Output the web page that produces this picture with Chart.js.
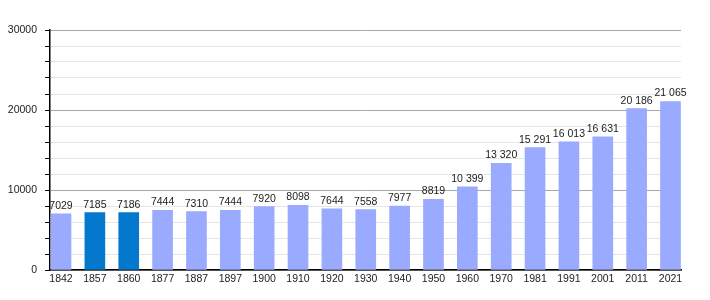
<!DOCTYPE html>
<html>
<head>
<meta charset="utf-8">
<script src="https://cdn.jsdelivr.net/npm/chart.js@4"></script>
<style>
  html, body { margin: 0; padding: 0; background: #fff; }
  #wrap { width: 710px; height: 300px; position: relative; }
</style>
</head>
<body>
<div id="wrap"><canvas id="pop-chart"></canvas></div>
<script>
// Census years and population
const years = ['1842', '1857', '1860', '1877', '1887', '1897', '1900', '1910', '1920', '1930',
               '1940', '1950', '1960', '1970', '1981', '1991', '2001', '2011', '2021'];
const population = [7029, 7185, 7186, 7444, 7310, 7444, 7920, 8098, 7644, 7558,
                    7977, 8819, 10399, 13320, 15291, 16013, 16631, 20186, 21065];
const highlighted = ['1857', '1860'];  // darker bars
const yTicks = [0, 10000, 20000, 30000];

const fontFamily = '"Liberation Sans", Arial, sans-serif';

// french style thousands: 10 399
function fmt(v) {
    return v >= 10000 ? String(v).replace(/\B(?=(\d{3})+(?!\d))/g, ' ') : String(v);
}

// values drawn above bars
const valueLabels = {
    id: 'valueLabels',
    afterDatasetsDraw(chart) {
        const ctx = chart.ctx;
        const meta = chart.getDatasetMeta(0);
        ctx.save();
        ctx.font = '10.5px ' + fontFamily;
        ctx.fillStyle = '#222';
        ctx.textAlign = 'center';
        ctx.textBaseline = 'alphabetic';
        meta.data.forEach((bar, i) => {
            ctx.fillText(fmt(population[i]), bar.x, bar.y - 5);
        });
        ctx.restore();
    }
};

const ctx = document.getElementById('pop-chart').getContext('2d');
new Chart(ctx, {
    type: 'bar',
    data: {
        datasets: [{
            data: population.map((v, i) => ({ x: i, y: v })),
            backgroundColor: years.map(y => highlighted.includes(y) ? '#0478cc' : '#99aaff'),
            barThickness: 20,
            borderWidth: 0,
        }]
    },
    options: {
        responsive: true,
        maintainAspectRatio: false,
        animation: false,
        layout: { padding: { top: 30, right: 29, left: 0, bottom: 0 } },
        plugins: { legend: { display: false }, tooltip: { enabled: false } },
        scales: {
            x: {
                type: 'linear',
                offset: false,
                min: -0.325,
                max: 18.31,
                afterBuildTicks: axis => { axis.ticks = years.map((_, i) => ({ value: i })); },
                afterFit: axis => { axis.height = 30; },
                ticks: {
                    callback: v => years[v],
                    autoSkip: false,
                    maxRotation: 0,
                    padding: 3,
                    color: '#222',
                    font: { family: fontFamily, size: 10.5 },
                },
                grid: { offset: false, drawOnChartArea: false, drawTicks: false },
                border: { color: '#000', width: 1.5 },
            },
            y: {
                min: 0,
                max: 30000,
                ticks: {
                    stepSize: 2000,
                    autoSkip: false,
                    callback: v => yTicks.includes(v) ? String(v) : '',
                    padding: 8,
                    color: '#222',
                    font: { family: fontFamily, size: 10.5 },
                },
                afterFit: axis => { axis.width = 50; },
                grid: {
                    color: c => c.tick && c.tick.value % 10000 === 0 ? '#a8a8a8' : '#e6e6e6',
                    tickColor: '#000',
                    tickLength: 5,
                },
                border: { color: '#000', width: 1.5 },
            },
        },
    },
    plugins: [valueLabels],
});
</script>
</body>
</html>
